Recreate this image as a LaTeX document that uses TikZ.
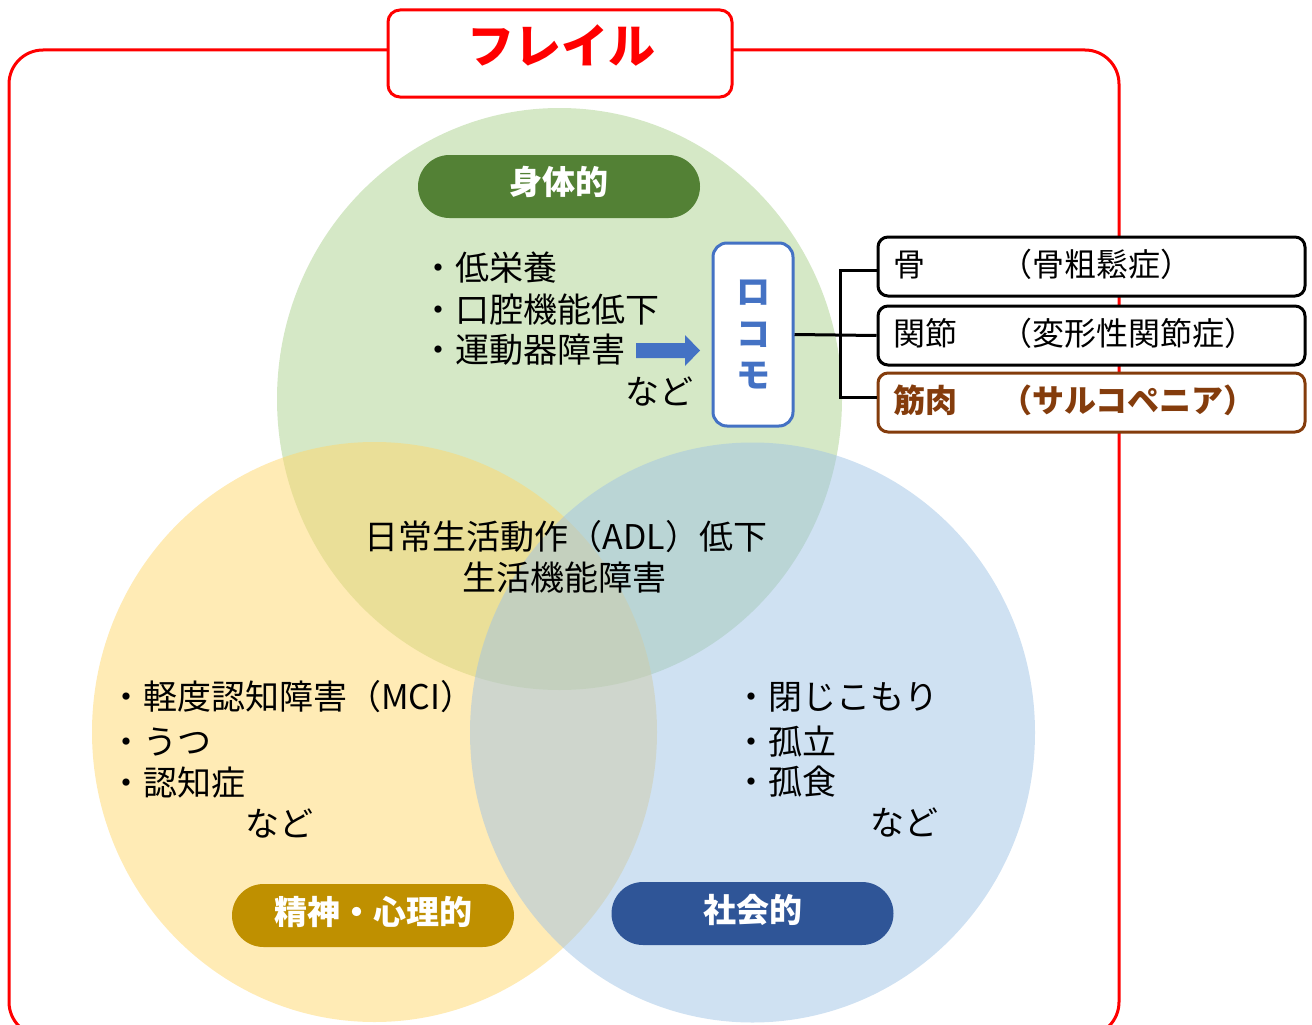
\documentclass[tikz,border=0pt]{standalone}
\usepackage{fontspec}
\setmainfont{Noto Sans CJK JP}
\definecolor{cgreen}{HTML}{ABD18D}
\definecolor{cyellow}{HTML}{FFD76B}
\definecolor{cblue}{HTML}{9FC3E5}
\definecolor{pgreen}{HTML}{538135}
\definecolor{pgold}{HTML}{BF9000}
\definecolor{pblue}{HTML}{2F5597}
\definecolor{lblue}{HTML}{4472C4}
\definecolor{brown}{HTML}{843C0C}
\definecolor{frame}{HTML}{FF0000}
\begin{document}
\begin{tikzpicture}[x=1pt,y=-1pt,
  body/.style={inner sep=0pt, anchor=base west, text=black, font=\fontsize{34}{40}\selectfont},
  ctext/.style={inner sep=0pt, anchor=base, text=black, font=\fontsize{34}{40}\selectfont},
  pill/.style={rounded corners=31.5pt, minimum width=282pt, minimum height=63pt, inner sep=0pt},
  pilltext/.style={inner sep=0pt, anchor=base, text=white, font=\fontsize{33}{40}\selectfont\bfseries},
  item/.style={draw=black, line width=3pt, rounded corners=10pt, fill=white, minimum width=427pt, minimum height=59pt, inner sep=0pt},
  itemtext/.style={inner sep=0pt, anchor=base west, text=black, font=\fontsize{32}{40}\selectfont},
  conn/.style={draw=black, line width=3pt}
]
\useasboundingbox (0,0) rectangle (1312,1025);
% outer frame
\draw[frame, line width=3pt, rounded corners=34pt] (9,50) rectangle (1119,1036);
% circles
\fill[cgreen, fill opacity=0.5] (559.5,399) ellipse [x radius=282.5, y radius=291];
\fill[cyellow, fill opacity=0.5] (374.5,732) ellipse [x radius=282.5, y radius=290];
\fill[cblue, fill opacity=0.5] (752.5,732.5) ellipse [x radius=282.5, y radius=290];
% title
\node[draw=frame, line width=3pt, fill=white, rounded corners=12pt, minimum width=344pt, minimum height=87pt, inner sep=0pt] (title) at (560,53.5) {};
\node[inner sep=0pt, anchor=base, text=frame, font=\fontsize{47}{50}\selectfont\bfseries] (titletext) at (561,63.5) {フレイル};
% pills
\node[pill, fill=pgreen] (pphys) at (559,186.5) {};
\node[pilltext] (tphys) at (559,194.5) {身体的};
\node[pill, fill=pgold] (pmind) at (373,915.5) {};
\node[pilltext] (tmind) at (373,924.5) {精神・心理的};
\node[pill, fill=pblue] (psoc) at (752.5,913.5) {};
\node[pilltext] (tsoc) at (753,922.5) {社会的};
% physical list
\node[body] (g1) at (421,280.5) {・低栄養};
\node[body] (g2) at (421,322.5) {・口腔機能低下};
\node[body] (g3) at (421,362.5) {・運動器障害};
\node[body] (g4) at (625,404) {など};
% arrow
\fill[lblue] (636,343) -- (685,343) -- (685,335) -- (700,350.5) -- (685,366) -- (685,358) -- (636,358) -- cycle;
% locomo box
\node[draw=lblue, line width=3pt, fill=white, rounded corners=14pt, minimum width=80pt, minimum height=183pt, inner sep=0pt, align=center, text=lblue, font=\fontsize{34}{41.5}\selectfont\bfseries] (loco) at (753,334.5) {ロ\\コ\\モ};
% boxes
\node[item] (box1) at (1091.5,266.5) {};
\node[item] (box2) at (1091.5,335.5) {};
\node[item, draw=brown] (box3) at (1091.5,402.5) {};
\node[itemtext] (b1a) at (893,276.5) {骨};
\node[itemtext] (b1b) at (1000,276.5) {（骨粗鬆症）};
\node[itemtext] (b2a) at (893,345.5) {関節};
\node[itemtext] (b2b) at (1000,345.5) {（変形性関節症）};
\node[itemtext, text=brown, font=\fontsize{32}{40}\selectfont\bfseries] (b3a) at (893,412.5) {筋肉};
\node[itemtext, text=brown, font=\fontsize{32}{40}\selectfont\bfseries] (b3b) at (1000,412.5) {（サルコペニア）};
% connectors
\coordinate (brk) at (840,335);
\draw[conn] (loco.east) -- (box2.west);
\draw[conn] ([yshift=-3.5pt]box1.west) -| (brk) |- ([yshift=5.5pt]box3.west);
% center text
\node[ctext] (c1) at (566,549.5) {日常生活動作（ADL）低下};
\node[ctext] (c2) at (564,590.5) {生活機能障害};
% mental list
\node[body] (y1) at (109,709.5) {・軽度認知障害（MCI）};
\node[body] (y2) at (109,754.5) {・うつ};
\node[body] (y3) at (109,795.5) {・認知症};
\node[body] (y4) at (245,836) {など};
% social list
\node[body] (s1) at (734,709.5) {・閉じこもり};
\node[body] (s2) at (734,754.5) {・孤立};
\node[body] (s3) at (734,794.5) {・孤食};
\node[body] (s4) at (870,835) {など};
\end{tikzpicture}
\end{document}
